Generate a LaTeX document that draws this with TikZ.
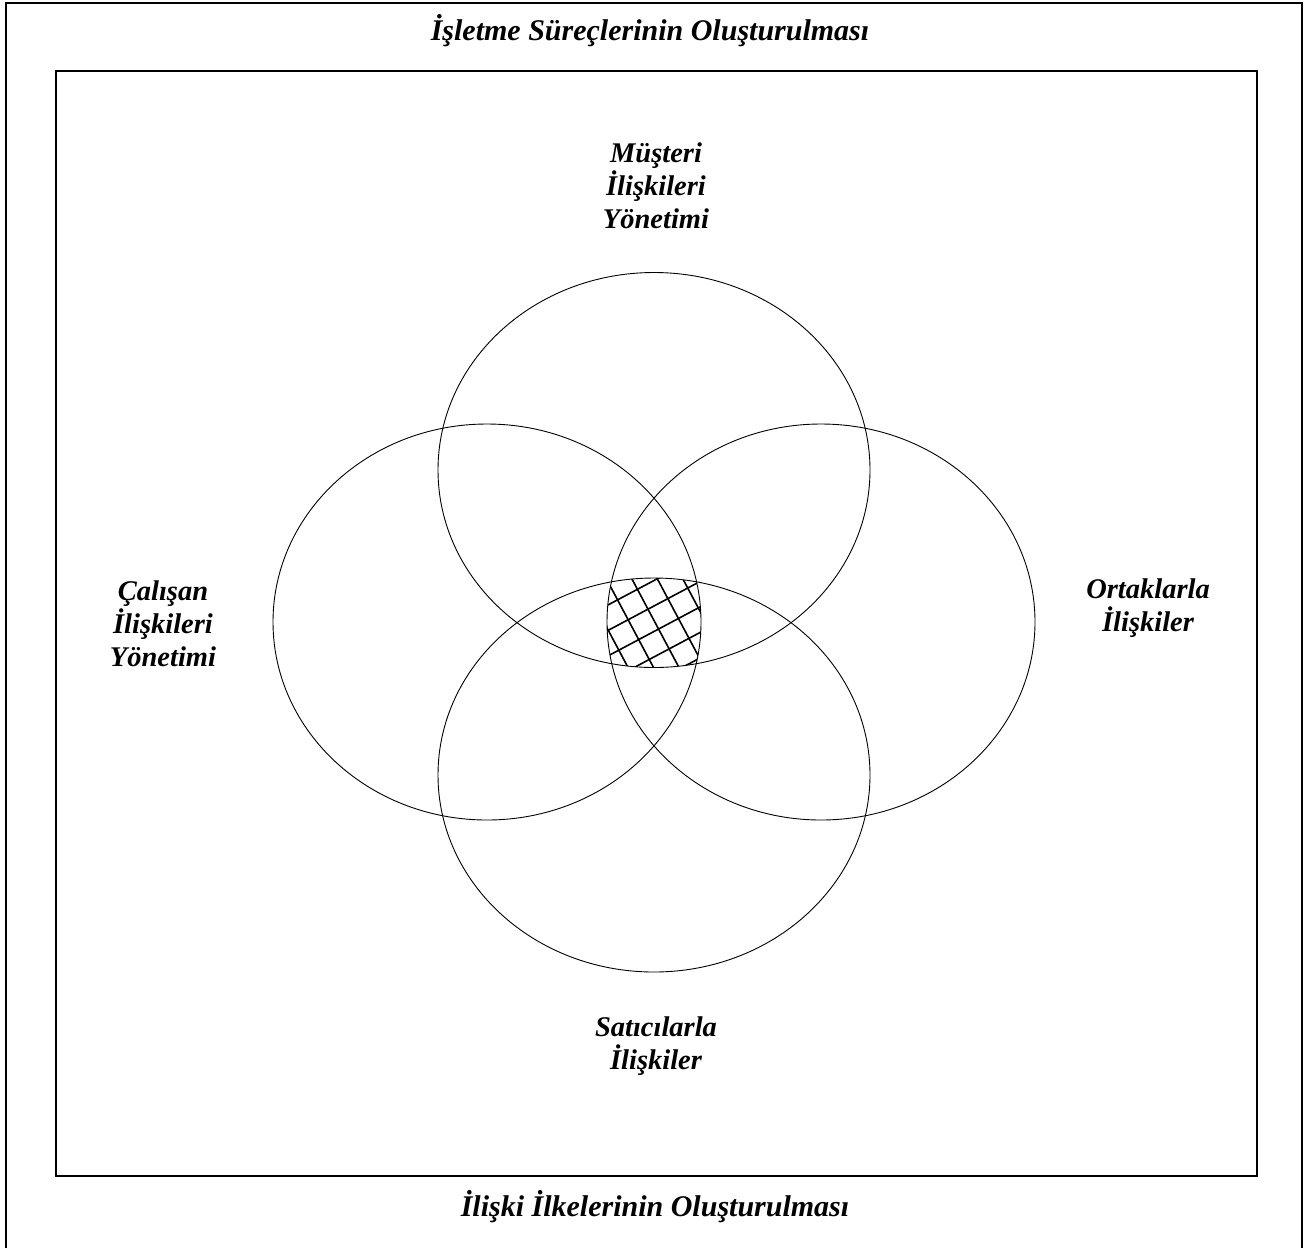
\documentclass[tikz,border=0pt]{standalone}
\usepackage{fontspec}
\setmainfont{Liberation Serif}
\usetikzlibrary{shapes.geometric}
\begin{document}
\begin{tikzpicture}[x=1pt,y=-1pt,
  frame/.style={draw=black,line width=1.6pt},
  circ/.style={draw=black,line width=0.9pt},
  lbl/.style={font=\fontsize{28.5}{33}\selectfont\bfseries\itshape,align=center,inner sep=0pt},
  ttl/.style={font=\fontsize{30}{34}\selectfont\bfseries\itshape,inner sep=0pt},
  hatch/.style={draw=black,line width=1.6pt}]
\useasboundingbox (0,0) rectangle (1309,1248);
% outer frame
\draw[frame] (6,1248) coordinate (o1) -- (6,3) coordinate (o2) -- (1302,3) coordinate (o3) -- (1302,1248) coordinate (o4);
% inner frame
\node[frame,minimum width=1201pt,minimum height=1105pt,inner sep=0pt,anchor=north west] (inner) at (55,70) {};
% titles
\node[ttl] (t1) at (650,31) {İşletme Süreçlerinin Oluşturulması};
\node[ttl] (t2) at (655,1207) {İlişki İlkelerinin Oluşturulması};
% ellipses
\node[circ,ellipse,minimum width=432pt,minimum height=395pt,inner sep=0pt] (ctop) at (654,470) {};
\node[circ,ellipse,minimum width=428pt,minimum height=396pt,inner sep=0pt] (cleft) at (487,622) {};
\node[circ,ellipse,minimum width=428pt,minimum height=396pt,inner sep=0pt] (cright) at (821,622) {};
\node[circ,ellipse,minimum width=432pt,minimum height=394pt,inner sep=0pt] (cbot) at (654,775) {};
% hatch in the central lens
\begin{scope}
  \clip (654,470) ellipse [x radius=216pt, y radius=197.5pt];
  \clip (654,775) ellipse [x radius=216pt, y radius=197pt];
  \clip (487,622) ellipse [x radius=214pt, y radius=198pt];
  \clip (821,622) ellipse [x radius=214pt, y radius=198pt];
  \begin{scope}[shift={(607,580)},rotate=28]
    \foreach \k in {-6,...,8} {
      \draw[hatch] (\k*22.5,-200) -- (\k*22.5,200);
      \draw[hatch] (-200,\k*22.5) -- (200,\k*22.5);
    }
  \end{scope}
\end{scope}
% labels
\node[lbl] (mus) at (656,186) {Müşteri\\İlişkileri\\Yönetimi};
\node[lbl] (cal) at (163,624) {Çalışan\\İlişkileri\\Yönetimi};
\node[lbl] (ort) at (1148,608) {Ortaklarla\\İlişkiler};
\node[lbl] (sat) at (656,1046) {Satıcılarla\\İlişkiler};
\end{tikzpicture}
\end{document}
